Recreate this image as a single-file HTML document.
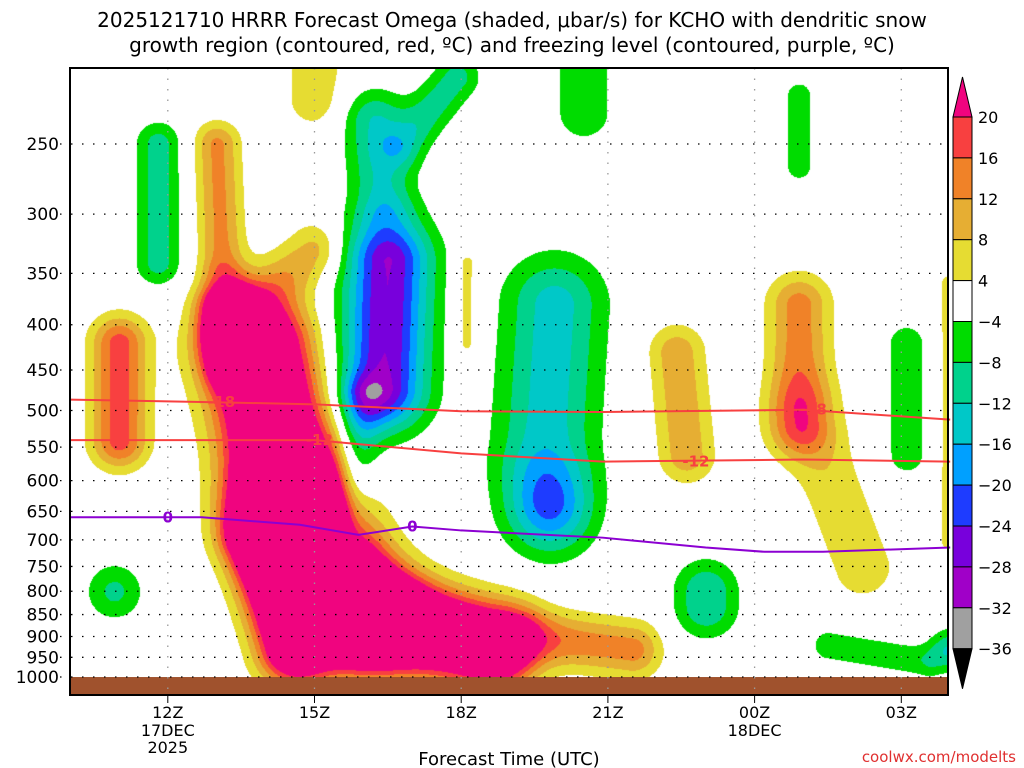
<!DOCTYPE html>
<html><head><meta charset="utf-8">
<style>
body{margin:0;background:#fff;width:1024px;height:768px;overflow:hidden;position:relative;font-family:"DejaVu Sans","Liberation Sans",sans-serif;}
.t{position:absolute;white-space:nowrap;color:#000;}
#title{left:0;width:1024px;text-align:center;top:8px;font-size:20px;line-height:25px;}
canvas{position:absolute;left:70px;top:68px;}
svg{position:absolute;left:0;top:0;}
</style></head><body>
<div id="title" class="t">2025121710 HRRR Forecast Omega (shaded, μbar/s) for KCHO with dendritic snow<br>growth region (contoured, red, ºC) and freezing level (contoured, purple, ºC)</div>
<canvas id="cv" width="878" height="627"></canvas>
<svg id="sv" width="1024" height="768"></svg>
<script>
// ---- data ----
const pressureTicks=[250,300,350,400,450,500,550,600,650,700,750,800,850,900,950,1000];
const timeTicks=[12,15,18,21,24,27];
const timeLabels=["12Z","15Z","18Z","21Z","00Z","03Z"];
const timeSubLabels=["17DEC\n2025","","","","18DEC",""];
const cbLevels=[20,16,12,8,4,-4,-8,-12,-16,-20,-24,-28,-32,-36];
// omega features (ridge segments): start time(h), start p, end time, end p, amplitude, spread
const featT1=[13.2,13.8,14.5,16.0,14.0,11.0,13.0,15.0,18.1,19.5,22.4,24.9,25.0,16.5,16.0,16.8,20.5,11.8,10.9,19.9,19.8,24.9,23.0,27.1,25.5,28.0,28.0,16.2,13.3];
const featP1=[380,430,640,850,700,420,250,205,340,900,430,380,500,340,480,250,205,250,800,380,650,220,800,420,920,930,360,235,400];
const featT2=[13.4,14.5,16.0,18.6,14.6,11.0,13.1,15.0,18.1,21.5,22.6,24.9,26.2,16.4,15.7,17.9,20.5,11.8,10.9,19.7,19.8,24.9,23.0,27.1,27.5,28.0,28.0,16.4,15.0];
const featP2=[440,640,850,920,920,540,340,222,420,930,560,520,750,470,680,210,230,340,800,560,650,265,830,560,960,930,700,290,330];
const featAmp=[30,45,45,45,40,18,13,7,6,14,11,14,7,-28,-10,-10,-8,-10,-9,-14,-18,-6,-12,-7,-7,-12,6,-12,10];
const featSpread=[18,35,35,28,25,20,16,22,9,20,20,22,25,30,15,16,20,16,20,35,30,12,22,15,12,14,10,22,20];
// contour lines
const lineTimes=[10,12.7,15,18,20.9,25,28];
const dgzTop=[486,489,492,501,502,499,512];
const dgzBot=[540,540,540,559,571,568,571];
const frzTimes=[10,12.7,14.7,15.9,17,18,20.9,23,24.2,25.4,28];
const frzLevel=[660,660,673,691,676,683,696,714,722,722,714];
// ---- scales ----
const X0=70,X1=948,Y0=68,Y1=695;
const xS=t=>X0+(t-10)*48.9;
const yS=p=>144+Math.log(p/250)*384.5;
const colors=["#f0047f","#f84040","#f08228","#e6ae33","#e6dc32","#ffffff","#00dc00","#00d28c","#00c8c8","#00a0ff","#1e3cff","#7800dc","#a000c8","#a0a0a0","#000000"];
// ---- shading ----
const cv=document.getElementById('cv'),ctx=cv.getContext('2d');
const W=cv.width,H=cv.height,img=ctx.createImageData(W,H);
const segs=featT1.map((t,i)=>({ax:xS(t),ay:yS(featP1[i]),bx:xS(featT2[i]),by:yS(featP2[i]),a:featAmp[i],s:featSpread[i]}));
function rgb(h){return [parseInt(h.substr(1,2),16),parseInt(h.substr(3,2),16),parseInt(h.substr(5,2),16)];}
const rgbCols=colors.map(rgb);
for(let py=0;py<H;py++){for(let px=0;px<W;px++){
 const x=px+X0,y=py+Y0;let v=0;
 for(const s of segs){const dx=s.bx-s.ax,dy=s.by-s.ay,L=dx*dx+dy*dy;let u=L?((x-s.ax)*dx+(y-s.ay)*dy)/L:0;u=Math.max(0,Math.min(1,u));
  const ex=x-(s.ax+u*dx),ey=y-(s.ay+u*dy);v+=s.a*Math.exp(-(ex*ex+ey*ey)/(2*s.s*s.s));}
 let ci=14;for(let i=0;i<cbLevels.length;i++){if(v>=cbLevels[i]){ci=i;break;}}
 if(v>-4&&v<4)ci=5;
 const c=rgbCols[ci],k=(py*W+px)*4;img.data[k]=c[0];img.data[k+1]=c[1];img.data[k+2]=c[2];img.data[k+3]=255;}}
ctx.putImageData(img,0,0);
// ---- overlay ----
const sv=document.getElementById('sv'),NS="http://www.w3.org/2000/svg";
function mk(tag,attrs,parent){const e=document.createElementNS(NS,tag);for(const k in attrs)e.setAttribute(k,attrs[k]);(parent||sv).appendChild(e);return e;}
let e=mk('rect',{x:X0,y:yS(1000),width:X1-X0,height:Y1-yS(1000),fill:'#a0522d'});


pressureTicks.forEach(p=>{const y=yS(p);
 e=mk('line',{x1:X0-10,x2:X1,y1:y,y2:y,stroke:'#000','stroke-width':1.3,'stroke-dasharray':'1.5 9.5'});
 
 
 e=mk('text',{x:59,y:y+6,'text-anchor':'end','font-size':17,fill:'#000'});e.textContent=p;
 
 });
timeTicks.forEach((t,i)=>{const x=xS(t);
 e=mk('line',{x1:x,x2:x,y1:Y0,y2:Y1,stroke:'#999','stroke-width':1.3,'stroke-dasharray':'1.5 9'});
 
 
 e=mk('line',{x1:x,x2:x,y1:Y1,y2:Y1+8,stroke:'#000'});
 e=mk('text',{x:x,y:718,'text-anchor':'middle','font-size':16});e.textContent=timeLabels[i];
 
 
 timeSubLabels[i].split("\n").forEach((s,j)=>{if(!s)return;e=mk('text',{x:x,y:736+j*17,'text-anchor':'middle','font-size':16});e.textContent=s;
 
 });});
function line(ts,ps,col,name){const d=ts.map((t,i)=>(i?'L':'M')+xS(t)+','+yS(ps[i])).join('');
 const el=mk('path',{d:d,fill:'none',stroke:col,'stroke-width':2});
 
 }
line(lineTimes,dgzTop,'#f84040','dgz-minus18-contour');
line(lineTimes,dgzBot,'#f84040','dgz-minus12-contour');
line(frzTimes,frzLevel,'#8c00d2','freezing-level-contour');
function lbl(t,p,s,col){const x=xS(t),y=yS(p);
 const el=mk('text',{x:x,y:y+5,'text-anchor':'middle','font-size':15,'font-weight':'bold',fill:col});el.textContent=s;
 
 }
lbl(13.1,489,'-18','#f84040');lbl(25.2,499,'-18','#f84040');
lbl(15.1,540,'-12','#f84040');lbl(22.8,571,'-12','#f84040');
lbl(12.0,660,'0','#8c00d2');lbl(17.0,676,'0','#8c00d2');
e=mk('rect',{x:X0,y:Y0,width:X1-X0,height:Y1-Y0,fill:'none',stroke:'#000','stroke-width':2});


// colorbar
const cbX=953,cbW=19,cbTop=117,cbStep=40.9;
const cb=mk('g',{});


mk('polygon',{points:`${cbX},${cbTop} ${cbX+cbW},${cbTop} ${cbX+cbW/2},${cbTop-40}`,fill:colors[0],stroke:'#000'},cb);
for(let i=0;i<cbLevels.length-1;i++){mk('rect',{x:cbX,y:cbTop+i*cbStep,width:cbW,height:cbStep,fill:colors[i+1],stroke:'#000'},cb);}
const cbBot=cbTop+(cbLevels.length-1)*cbStep;
mk('polygon',{points:`${cbX},${cbBot} ${cbX+cbW},${cbBot} ${cbX+cbW/2},${cbBot+40}`,fill:'#000',stroke:'#000'},cb);
cbLevels.forEach((l,i)=>{e=mk('text',{x:978,y:cbTop+i*cbStep+6,'font-size':16},cb);e.textContent=(l<0?'−':'')+Math.abs(l);
 
 });
e=mk('text',{x:509,y:765,'text-anchor':'middle','font-size':18});e.textContent='Forecast Time (UTC)';


e=mk('text',{x:1016,y:762,'text-anchor':'end','font-size':15,fill:'#e03030'});e.textContent='coolwx.com/modelts';


</script>
</body></html>
